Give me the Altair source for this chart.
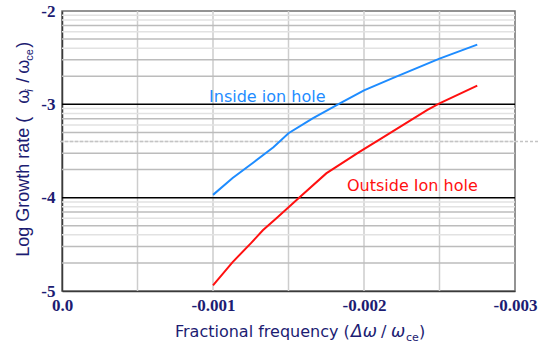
import altair as alt
import numpy as np
import pandas as pd

# Growth-rate curves: fractional frequency vs log10(growth rate)
inside_x = [-0.00100, -0.00113, -0.00127, -0.00140, -0.00150, -0.00166,
            -0.00184, -0.00200, -0.00219, -0.00250, -0.00275]
inside_y = [-3.97, -3.79, -3.62, -3.46, -3.31, -3.15,
            -2.99, -2.85, -2.72, -2.51, -2.36]

outside_x = [-0.00100, -0.00113, -0.00125, -0.00133, -0.00142, -0.00157,
             -0.00175, -0.00197, -0.00211, -0.00242, -0.00250, -0.00275]
outside_y = [-4.94, -4.69, -4.49, -4.35, -4.22, -4.00,
             -3.74, -3.51, -3.37, -3.06, -2.99, -2.80]

series_names = ["Inside ion hole", "Outside Ion hole"]

x_ticks = [0.0, -0.001, -0.002, -0.003]
y_ticks = [-2, -3, -4, -5]
x_grid = [-0.0005, -0.001, -0.0015, -0.002, -0.0025]
decades = [-5, -4, -3]
minor_mult = [2, 3, 4, 5, 6, 7, 8, 9]
major_levels = [-3, -4]

W, H = 453, 280
NAVY = "#1c1c72"
BLUE = "#1e8cff"
RED = "#ff1010"

lines = pd.DataFrame({
    "x": inside_x + outside_x,
    "y": inside_y + outside_y,
    "series": [series_names[0]] * len(inside_x) + [series_names[1]] * len(outside_x),
})

xs = alt.Scale(domain=[-0.003, 0], reverse=True, nice=False, zero=False)
ys = alt.Scale(domain=[-5, -2], nice=False, zero=False)

x_axis = alt.Axis(
    values=x_ticks,
    labelExpr="datum.value == 0 ? '0.0' : '-' + format(abs(datum.value), '.3f')",
    ticks=False, grid=False, domainColor="#3a3a3a", domainWidth=1.5,
    labelFont="Liberation Serif", labelFontWeight="bold", labelFontSize=17,
    labelColor=NAVY, labelPadding=6, labelFlush=False,
)
y_axis = alt.Axis(
    values=y_ticks,
    labelExpr="'-' + format(abs(datum.value), 'd')",
    ticks=False, grid=False, domainColor="#3a3a3a", domainWidth=1.5,
    labelFont="Liberation Serif", labelFontWeight="bold", labelFontSize=17,
    labelColor=NAVY, labelPadding=7, labelFlush=False,
)

X = alt.X("x:Q", scale=xs, axis=x_axis, title=None)
Y = alt.Y("y:Q", scale=ys, axis=y_axis, title=None)

# vertical grid every 0.0005
vgrid = alt.Chart(pd.DataFrame({"x": x_grid})).mark_rule(
    color="#cdcdcd", strokeWidth=1.5).encode(x=X)

# logarithmic minor grid inside each decade
minor_rows = []
for n in decades:
    for k in minor_mult:
        shade = "#bcbcbc" if k in (2, 3, 5, 7) else "#e2e2e2"
        minor_rows.append({"y": n + np.log10(k), "shade": shade})
minor = pd.DataFrame(minor_rows)
hgrid = alt.Chart(minor).mark_rule(strokeWidth=1.5).encode(
    y=Y, color=alt.Color("shade:N", scale=None))

# dotted reference at 4e-4
dashed = alt.Chart(pd.DataFrame({"y": [np.log10(4e-4)]})).mark_rule(
    color="#c4c4c4", strokeDash=[3, 2], strokeWidth=1.5).encode(
    y=Y, x=alt.value(-2), x2=alt.value(W + 25))

major = alt.Chart(pd.DataFrame({"y": major_levels})).mark_rule(
    color="black", strokeWidth=1.5).encode(y=Y)

curves = alt.Chart(lines).mark_line(strokeWidth=2).encode(
    x=X, y=Y,
    color=alt.Color("series:N", scale=alt.Scale(domain=series_names, range=[BLUE, RED]),
                    legend=None),
    detail="series:N",
)

labels = pd.DataFrame({
    "x": [-0.000974, -0.001887],
    "y": [-2.974, -3.929],
    "series": series_names,
})
annot = alt.Chart(labels).mark_text(
    align="left", baseline="alphabetic", font="DejaVu Sans", fontSize=16).encode(
    x=X, y=Y, text="series:N",
    color=alt.Color("series:N", scale=alt.Scale(domain=series_names, range=[BLUE, RED]),
                    legend=None),
)

one = pd.DataFrame({"a": [0]})
layers = [vgrid, hgrid, dashed, major, curves, annot]

# y-axis title with subscripts, rotated
y_pieces = [
    ("Log Growth rate (", 0, 0, 18, "normal"),
    ("\u03c9", 153, 0, 18, "normal"),
    ("i", 165, 4, 11, "italic"),
    ("/", 174, 0, 18, "normal"),
    ("\u03c9", 183, 0, 18, "normal"),
    ("ce", 196, 4, 11, "normal"),
    (")", 209, 0, 18, "normal"),
]
for txt, dx, dy, fs, style in y_pieces:
    layers.append(alt.Chart(one).mark_text(
        text=txt, angle=270, align="left", baseline="alphabetic", dx=dx, dy=dy,
        font="Liberation Sans", fontSize=fs, fontStyle=style, color=NAVY,
    ).encode(x=alt.value(-33.5), y=alt.value(245.7)))

# x-axis title with subscripts
x_pieces = [
    ("Fractional frequency (", 0, 0, 16, "normal"),
    ("\u0394\u03c9", 176, 0, 17, "italic"),
    ("/", 206, 0, 16, "normal"),
    ("\u03c9", 216, 0, 17, "italic"),
    ("ce", 231, 4, 11, "normal"),
    (")", 244, 0, 16, "normal"),
]
for txt, dx, dy, fs, style in x_pieces:
    layers.append(alt.Chart(one).mark_text(
        text=txt, align="left", baseline="alphabetic", dx=dx, dy=dy,
        font="DejaVu Sans", fontSize=fs, fontStyle=style, color=NAVY,
    ).encode(x=alt.value(113), y=alt.value(326)))

chart = alt.layer(*layers).properties(
    width=W, height=H,
    autosize=alt.AutoSizeParams(type="none"),
    padding={"left": 62, "top": 11, "right": 31, "bottom": 56},
    background="white",
).configure_view(stroke="#707070", strokeWidth=1.5)

chart.save("out.html", embed_options={"renderer": "svg", "actions": False})
